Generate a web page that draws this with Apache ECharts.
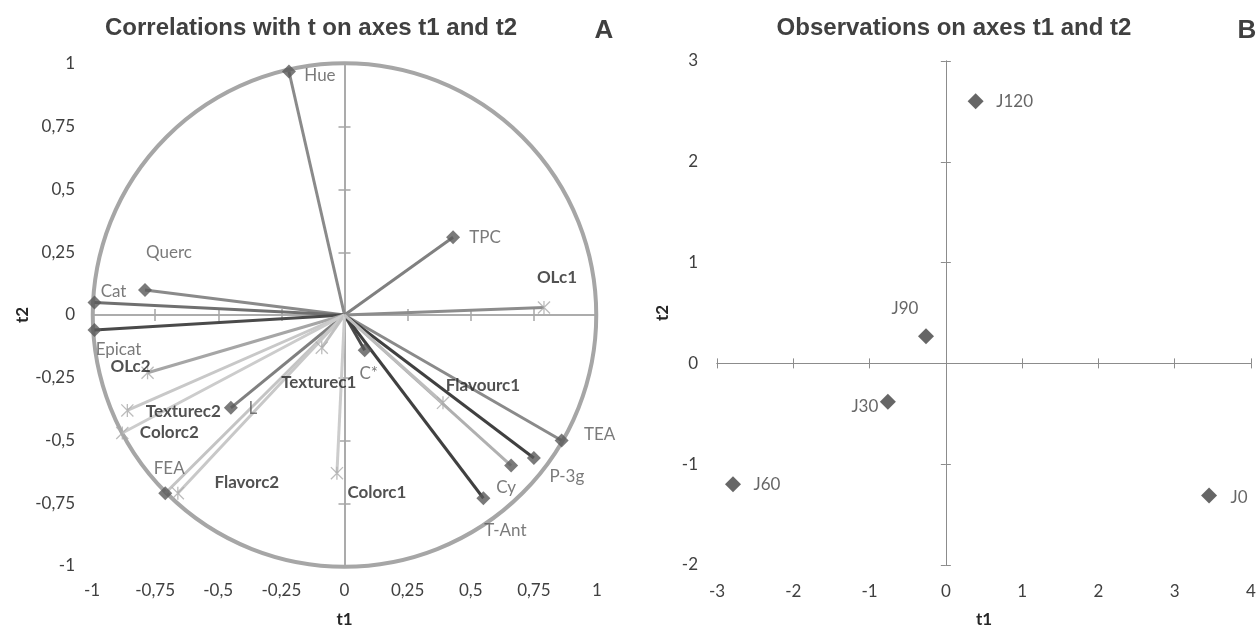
<!DOCTYPE html>
<html>
<head>
<meta charset="utf-8">
<script src="https://cdn.jsdelivr.net/npm/echarts@6/dist/echarts.min.js"></script>
<style>
html,body{margin:0;padding:0;background:#ffffff;}
#c{width:1259px;height:633px;}
</style>
</head>
<body>
<div id="c"></div>
<script>
// ---------- DATA ----------
// Panel A: active variables (diamonds)
const activeNames = ['Hue', 'TPC', 'Querc', 'Cat', 'Epicat', 'L', 'FEA', 'C*', 'TEA', 'P-3g', 'Cy', 'T-Ant'];
const activeT1 = [-0.22, 0.43, -0.79, -0.99, -0.99, -0.45, -0.71, 0.08, 0.86, 0.75, 0.66, 0.55];
const activeT2 = [0.97, 0.31, 0.10, 0.05, -0.06, -0.37, -0.71, -0.14, -0.50, -0.57, -0.60, -0.73];
// Panel A: supplementary variables (asterisks)
const supNames = ['OLc1', 'OLc2', 'Texturec2', 'Colorc2', 'Flavorc2', 'Texturec1', 'Colorc1', 'Flavourc1'];
const supT1 = [0.79, -0.78, -0.86, -0.88, -0.66, -0.09, -0.03, 0.39];
const supT2 = [0.03, -0.23, -0.38, -0.47, -0.71, -0.13, -0.63, -0.35];
// Panel B: observations
const obsNames = ['J0', 'J30', 'J60', 'J90', 'J120'];
const obsT1 = [3.45, -0.76, -2.79, -0.26, 0.39];
const obsT2 = [-1.31, -0.38, -1.20, 0.27, 2.60];
// Axis ranges / tick steps
const corrRange = [-1, 1];
const corrStep = 0.25;
const obsXRange = [-3, 4];
const obsYRange = [-2, 3];
const obsStep = 1;
const circleRadius = [1];
// Titles
const titleA = 'Correlations with t on axes t1 and t2';
const titleB = 'Observations on axes t1 and t2';
const axisNameX = 't1';
const axisNameY = 't2';

// ---------- STYLES (not data) ----------
const vectorColor = {
  'Hue': '#8a8a8a', 'TPC': '#808080', 'Querc': '#8a8a8a', 'Cat': '#707070', 'Epicat': '#4a4a4a',
  'L': '#808080', 'FEA': '#c4c4c4', 'C*': '#4a4a4a', 'TEA': '#8a8a8a', 'P-3g': '#404040',
  'Cy': '#b0b0b0', 'T-Ant': '#404040',
  'OLc1': '#8c8c8c', 'OLc2': '#a6a6a6', 'Texturec2': '#c8c8c8', 'Colorc2': '#cccccc',
  'Flavorc2': '#c8c8c8', 'Texturec1': '#c0c0c0', 'Colorc1': '#cccccc', 'Flavourc1': '#bdbdbd'
};
const labelOffset = {
  'Hue': [31, 4], 'TPC': [32, 0], 'Querc': [24, -37], 'Cat': [19, -11], 'Epicat': [24, 19],
  'L': [22, 1], 'FEA': [4, -25], 'C*': [4, 23], 'TEA': [38, -6], 'P-3g': [33, 18],
  'Cy': [-5, 22], 'T-Ant': [22, 32],
  'OLc1': [13, -30], 'OLc2': [-17, -6], 'Texturec2': [56, 1], 'Colorc2': [47, 0],
  'Flavorc2': [69, -11], 'Texturec1': [-3, 35], 'Colorc1': [40, 19], 'Flavourc1': [40, -17],
  'J0': [30, 2], 'J30': [-23, 5], 'J60': [34, 0], 'J90': [-21, -28], 'J120': [39, 0]
};
const asterisk = 'path://M9,0H11V20H9Z M1.4,0L20,18.6L18.6,20L0,1.4Z M18.6,0L20,1.4L1.4,20L0,18.6Z';
const FONT = 'Lato, "Open Sans", sans-serif';
const TICKC = '#404040';
const fmt = v => String(v).replace('.', ',');

function labelAxis(base, extra) {
  return Object.assign({
    type: 'value', splitLine: {show: false},
    axisLine: {show: false, onZero: false}, axisTick: {show: false}
  }, base, extra);
}
function tickAxis(base, pos, color, width, len) {
  return Object.assign({
    type: 'value', position: pos, splitLine: {show: false},
    axisLine: {show: true, onZero: true, lineStyle: {color: color, width: width}},
    axisTick: {show: true, length: len, lineStyle: {color: color, width: width}},
    axisLabel: {show: false}
  }, base);
}
function tickLabels(margin) {
  return {color: TICKC, fontFamily: FONT, fontSize: 17, formatter: fmt, margin: margin};
}

const A_X = {gridIndex: 0, min: corrRange[0], max: corrRange[1], interval: corrStep};
const A_Y = {gridIndex: 0, min: corrRange[0], max: corrRange[1], interval: corrStep};
const B_X = {gridIndex: 1, min: obsXRange[0], max: obsXRange[1], interval: obsStep};
const B_Y = {gridIndex: 1, min: obsYRange[0], max: obsYRange[1], interval: obsStep};
const nameStyle = {color: '#262626', fontFamily: FONT, fontSize: 17, fontWeight: 'bold'};

const xAxis = [
  labelAxis(A_X, {position: 'bottom', axisLabel: tickLabels(16),
    name: axisNameX, nameLocation: 'middle', nameGap: 45, nameTextStyle: nameStyle}),
  tickAxis(A_X, 'bottom', '#a6a6a6', 1.5, 6),
  tickAxis(A_X, 'top', '#a6a6a6', 1.5, 6),
  labelAxis(B_X, {position: 'bottom', axisLabel: tickLabels(18),
    name: axisNameX, nameLocation: 'middle', nameGap: 46, nameTextStyle: nameStyle}),
  tickAxis(B_X, 'bottom', '#8c8c8c', 1, 5),
  tickAxis(B_X, 'top', '#8c8c8c', 1, 5)
];
const yAxis = [
  labelAxis(A_Y, {position: 'left', axisLabel: tickLabels(17),
    name: axisNameY, nameLocation: 'middle', nameGap: 45, nameTextStyle: nameStyle}),
  tickAxis(A_Y, 'left', '#a6a6a6', 1.5, 6),
  tickAxis(A_Y, 'right', '#a6a6a6', 1.5, 6),
  labelAxis(B_Y, {position: 'left', axisLabel: tickLabels(19),
    name: axisNameY, nameLocation: 'middle', nameGap: 46, nameTextStyle: nameStyle}),
  tickAxis(B_Y, 'left', '#8c8c8c', 1, 5),
  tickAxis(B_Y, 'right', '#8c8c8c', 1, 5)
];

function labelFor(name, base) {
  const o = labelOffset[name] || [0, 0];
  return Object.assign({show: true, position: 'inside', offset: o, align: 'center', verticalAlign: 'middle',
    textBorderWidth: 0}, base);
}

const regLabel = {color: '#595959', fontFamily: FONT, fontSize: 17, fontWeight: 'normal'};
const boldLabel = {color: '#262626', fontFamily: FONT, fontSize: 17, fontWeight: 'bold'};

const vectors = [];
activeNames.forEach((n, i) => vectors.push({coords: [[0, 0], [activeT1[i], activeT2[i]]], lineStyle: {color: vectorColor[n]}}));
supNames.forEach((n, i) => vectors.push({coords: [[0, 0], [supT1[i], supT2[i]]], lineStyle: {color: vectorColor[n]}}));

const series = [
  {
    type: 'custom', xAxisIndex: 0, yAxisIndex: 0, silent: true, z: 1,
    data: [[0, 0, circleRadius[0]]],
    renderItem: function (params, api) {
      const c = api.coord([api.value(0), api.value(1)]);
      const s = api.size([api.value(2), api.value(2)]);
      return {type: 'circle', shape: {cx: c[0], cy: c[1], r: (s[0] + s[1]) / 2},
        style: {fill: 'none', stroke: '#a6a6a6', lineWidth: 4}};
    }
  },
  {
    type: 'lines', coordinateSystem: 'cartesian2d', xAxisIndex: 0, yAxisIndex: 0, z: 3, silent: true,
    lineStyle: {width: 3, opacity: 1}, data: vectors
  },
  {
    type: 'scatter', xAxisIndex: 0, yAxisIndex: 0, z: 5, symbol: asterisk, symbolSize: 13,
    itemStyle: {color: '#ababab'},
    data: supNames.map((n, i) => ({name: n, value: [supT1[i], supT2[i]], label: labelFor(n, Object.assign({formatter: '{b}'}, boldLabel))}))
  },
  {
    type: 'scatter', xAxisIndex: 0, yAxisIndex: 0, z: 6, symbol: 'diamond', symbolSize: 14,
    itemStyle: {color: '#595959'},
    data: activeNames.map((n, i) => ({name: n, value: [activeT1[i], activeT2[i]], label: labelFor(n, Object.assign({formatter: '{b}'}, regLabel))}))
  },
  {
    type: 'scatter', xAxisIndex: 3, yAxisIndex: 3, z: 6, symbol: 'diamond', symbolSize: 16,
    itemStyle: {color: '#404040'},
    data: obsNames.map((n, i) => ({name: n, value: [obsT1[i], obsT2[i]], label: labelFor(n, Object.assign({formatter: '{b}'}, regLabel, {color: '#404040'}))}))
  }
];

const chart = echarts.init(document.getElementById('c'), null, {renderer: 'canvas'});
chart.setOption({
  animation: false,
  backgroundColor: '#ffffff',
  grid: [
    {left: 92, top: 64, width: 505, height: 504, containLabel: false},
    {left: 717, top: 61, width: 534, height: 506, containLabel: false}
  ],
  xAxis: xAxis,
  yAxis: yAxis,
  graphic: [
    {type: 'text', x: 311, y: 28, style: {text: titleA, font: 'bold 24px "Liberation Sans", Arial, sans-serif', fill: '#404040', textAlign: 'center', textVerticalAlign: 'middle'}},
    {type: 'text', x: 604, y: 31, style: {text: 'A', font: 'bold 26px "Liberation Sans", Arial, sans-serif', fill: '#404040', textAlign: 'center', textVerticalAlign: 'middle'}},
    {type: 'text', x: 954, y: 28, style: {text: titleB, font: 'bold 24px "Liberation Sans", Arial, sans-serif', fill: '#404040', textAlign: 'center', textVerticalAlign: 'middle'}},
    {type: 'text', x: 1247, y: 31, style: {text: 'B', font: 'bold 26px "Liberation Sans", Arial, sans-serif', fill: '#404040', textAlign: 'center', textVerticalAlign: 'middle'}}
  ],
  series: series
});
</script>
</body>
</html>
